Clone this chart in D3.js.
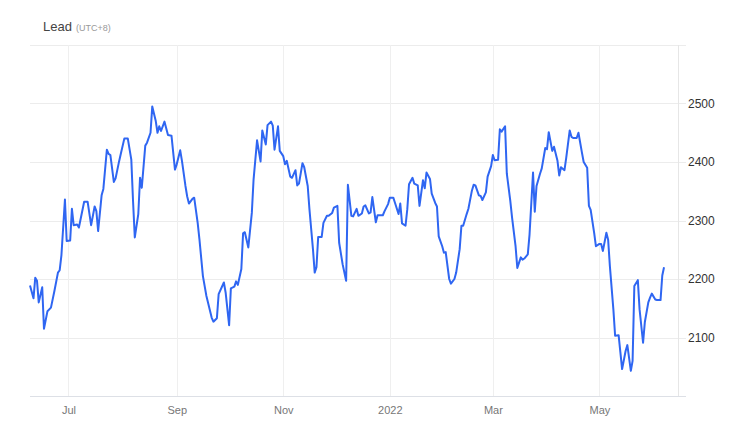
<!DOCTYPE html>
<html><head><meta charset="utf-8">
<script src="https://cdn.jsdelivr.net/npm/d3@7"></script>
<style>body{margin:0;background:#fff;}svg{display:block;font-family:Arial,"Liberation Sans",sans-serif;}</style>
</head><body>
<svg id="chart" width="740" height="438"></svg>
<script>
const title = "Lead";
const subtitle = "(UTC+8)";
const dates = [
"2021-06-09","2021-06-11","2021-06-12","2021-06-13","2021-06-14","2021-06-16","2021-06-17","2021-06-19","2021-06-21","2021-06-23","2021-06-25","2021-06-26","2021-06-27","2021-06-29","2021-06-30",
"2021-07-02","2021-07-03","2021-07-04","2021-07-06","2021-07-07","2021-07-10","2021-07-12","2021-07-14","2021-07-16","2021-07-17","2021-07-18","2021-07-20","2021-07-21","2021-07-23","2021-07-24","2021-07-25","2021-07-27","2021-07-28","2021-07-30","2021-07-31",
"2021-08-02","2021-08-04","2021-08-06","2021-08-07","2021-08-08","2021-08-10","2021-08-11","2021-08-12","2021-08-14","2021-08-15","2021-08-17","2021-08-18","2021-08-20","2021-08-21","2021-08-22","2021-08-23","2021-08-25","2021-08-27","2021-08-29","2021-08-31",
"2021-09-01","2021-09-03","2021-09-04","2021-09-06","2021-09-07","2021-09-08","2021-09-10","2021-09-11","2021-09-13","2021-09-14","2021-09-16","2021-09-18","2021-09-21","2021-09-22","2021-09-24","2021-09-25","2021-09-28","2021-09-29",
"2021-10-01","2021-10-02","2021-10-04","2021-10-05","2021-10-06","2021-10-08","2021-10-09","2021-10-10","2021-10-12","2021-10-14","2021-10-15","2021-10-17","2021-10-19","2021-10-20","2021-10-22","2021-10-23","2021-10-25","2021-10-26","2021-10-27","2021-10-29","2021-10-30",
"2021-11-01","2021-11-02","2021-11-03","2021-11-05","2021-11-06","2021-11-08","2021-11-09","2021-11-10","2021-11-12","2021-11-13","2021-11-15","2021-11-16","2021-11-17","2021-11-18","2021-11-19","2021-11-20","2021-11-21","2021-11-23","2021-11-24","2021-11-26","2021-11-27","2021-11-29","2021-11-30",
"2021-12-02","2021-12-03","2021-12-05","2021-12-07","2021-12-08","2021-12-10","2021-12-11","2021-12-13","2021-12-14","2021-12-16","2021-12-17","2021-12-18","2021-12-20","2021-12-21","2021-12-22","2021-12-24","2021-12-25","2021-12-27","2021-12-28","2021-12-29","2021-12-31",
"2022-01-01","2022-01-03","2022-01-04","2022-01-06","2022-01-07","2022-01-08","2022-01-10","2022-01-11","2022-01-12","2022-01-14","2022-01-15","2022-01-17","2022-01-18","2022-01-20","2022-01-21","2022-01-22","2022-01-24","2022-01-25","2022-01-27","2022-01-28","2022-01-29","2022-01-31",
"2022-02-01","2022-02-02","2022-02-04","2022-02-05","2022-02-07","2022-02-08","2022-02-10","2022-02-11","2022-02-12","2022-02-14","2022-02-15","2022-02-17","2022-02-18","2022-02-19","2022-02-21","2022-02-22","2022-02-23","2022-02-25","2022-02-26","2022-02-28",
"2022-03-01","2022-03-02","2022-03-04","2022-03-05","2022-03-06","2022-03-08","2022-03-09","2022-03-11","2022-03-12","2022-03-14","2022-03-15","2022-03-17","2022-03-18","2022-03-19","2022-03-21","2022-03-22","2022-03-24","2022-03-25","2022-03-26","2022-03-28","2022-03-29","2022-03-31",
"2022-04-01","2022-04-02","2022-04-04","2022-04-05","2022-04-07","2022-04-08","2022-04-09","2022-04-11","2022-04-12","2022-04-14","2022-04-15","2022-04-16","2022-04-18","2022-04-19","2022-04-21","2022-04-22","2022-04-24","2022-04-25","2022-04-26","2022-04-28","2022-04-29",
"2022-05-01","2022-05-02","2022-05-03","2022-05-05","2022-05-06","2022-05-07","2022-05-09","2022-05-10","2022-05-12","2022-05-13","2022-05-14","2022-05-16","2022-05-17","2022-05-19","2022-05-20","2022-05-21","2022-05-23","2022-05-24","2022-05-26","2022-05-27","2022-05-29","2022-05-30","2022-05-31",
"2022-06-02","2022-06-03","2022-06-05","2022-06-06","2022-06-07"
];
const prices = [
2189,2167,2202,2197,2160,2186,2115,2145,2151,2180,2211,2215,2241,2336,2265,
2266,2320,2292,2293,2288,2332,2332,2292,2324,2316,2282,2343,2354,2421,2414,2412,2366,2372,2401,2414,
2440,2440,2404,2333,2271,2311,2373,2356,2428,2433,2450,2495,2470,2450,2461,2453,2469,2446,2445,2387,
2396,2420,2402,2359,2341,2329,2337,2339,2296,2268,2205,2171,2134,2127,2133,2174,2194,2177,
2121,2184,2187,2196,2190,2217,2278,2280,2254,2313,2370,2437,2401,2454,2430,2463,2469,2462,2421,2461,2419,
2410,2396,2402,2375,2373,2386,2360,2363,2398,2391,2359,2319,2285,2251,2211,2220,2272,2272,2296,2308,2308,2313,2322,
2325,2262,2225,2197,2361,2308,2307,2320,2308,2312,2324,2326,2312,2314,2340,2297,2309,2309,2309,2316,2328,
2339,2339,2330,2311,2329,2295,2291,2319,2362,2373,2363,2360,2325,2369,2355,2382,2371,2346,2330,2324,2273,2256,
2245,2246,2200,2192,2200,2211,2251,2291,2291,2311,2320,2351,2361,2360,2343,2342,2335,2348,2375,2393,
2412,2403,2404,2456,2452,2461,2380,2333,2305,2256,2219,2237,2233,2235,2242,2276,2382,2315,2359,2380,2389,2424,
2422,2451,2419,2426,2402,2377,2391,2386,2407,2454,2443,2441,2441,2450,2416,2400,2390,2325,2318,2279,2256,
2260,2260,2248,2279,2267,2222,2148,2103,2104,2075,2046,2077,2087,2043,2060,2188,2198,2148,2091,2126,2160,2168,2175,
2165,2164,2164,2206,2220
];
const yTicks = [2100, 2200, 2300, 2400, 2500];
const xTickDates = ["2021-07-01","2021-09-01","2021-11-01","2022-01-01","2022-03-01","2022-05-01"];
const xDomain = ["2021-06-09","2022-06-15"];
const yDomain = [2000, 2600];

const parse = d3.utcParse("%Y-%m-%d");
const data = dates.map((d, i) => ({date: parse(d), value: prices[i]}));

const svg = d3.select("#chart");
const pLeft = 30, pRight = 678, pTop = 45, pBottom = 396, gridEnd = 686;

const x = d3.scaleUtc().domain(xDomain.map(parse)).range([pLeft, pRight]);
const y = d3.scaleLinear().domain(yDomain).range([pBottom, pTop]);

// title
const t = svg.append("text").attr("x", 43).attr("y", 31).attr("fill", "#444").attr("font-size", 13);
t.append("tspan").text(title);
t.append("tspan").attr("dx", 4).attr("font-size", 9).attr("fill", "#999").text(subtitle);

// horizontal grid
svg.append("g").selectAll("line").data(yTicks).join("line")
  .attr("x1", pLeft).attr("x2", gridEnd)
  .attr("y1", d => Math.round(y(d)) + 0.5).attr("y2", d => Math.round(y(d)) + 0.5)
  .attr("stroke", "#ececec").attr("stroke-width", 1);
// top border
svg.append("line").attr("x1", pLeft).attr("x2", gridEnd).attr("y1", pTop + 0.5).attr("y2", pTop + 0.5)
  .attr("stroke", "#ececec");

// vertical grid
const xt = xTickDates.map(parse);
svg.append("g").selectAll("line").data(xt).join("line")
  .attr("x1", d => Math.round(x(d)) + 0.5).attr("x2", d => Math.round(x(d)) + 0.5)
  .attr("y1", pTop).attr("y2", pBottom)
  .attr("stroke", "#efefef");
// right border
svg.append("line").attr("x1", pRight + 0.5).attr("x2", pRight + 0.5).attr("y1", pTop).attr("y2", pBottom)
  .attr("stroke", "#e6e6e6");

// x axis
const fmt = d => d.getUTCMonth() === 0 ? d3.utcFormat("%Y")(d) : d3.utcFormat("%b")(d);
const xAxis = svg.append("g").attr("transform", `translate(0,${pBottom})`)
  .call(d3.axisBottom(x).tickValues(xt).tickFormat(fmt).tickSize(0).tickPadding(10));
xAxis.select(".domain").attr("d", `M${pLeft},0.5H${gridEnd}`).attr("stroke", "#dde0e6");
xAxis.selectAll("text").attr("fill", "#777").attr("font-size", 11).attr("font-family", "Arial, 'Liberation Sans', sans-serif");

// y axis
const yAxis = svg.append("g").attr("transform", `translate(${gridEnd},0)`)
  .call(d3.axisRight(y).tickValues(yTicks).tickFormat(d3.format("d")).tickSize(0).tickPadding(2));
yAxis.select(".domain").remove();
yAxis.selectAll("text").attr("fill", "#333").attr("font-size", 12).attr("font-family", "Arial, 'Liberation Sans', sans-serif");

// line
const line = d3.line().x(d => x(d.date)).y(d => y(d.value));
svg.append("path").datum(data).attr("d", line)
  .attr("fill", "none").attr("stroke", "#2f66f2").attr("stroke-width", 2).attr("stroke-linejoin", "round");
</script>
</body></html>
